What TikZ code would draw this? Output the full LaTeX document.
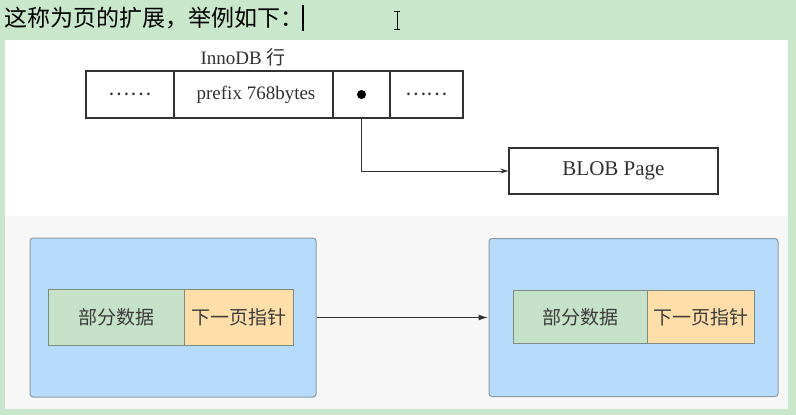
\documentclass[tikz,border=0pt]{standalone}
\usepackage{fontspec}
\setmainfont{Liberation Serif}
\newfontfamily\cjk{Noto Sans CJK SC}
\usetikzlibrary{arrows.meta}
\definecolor{bandgreen}{RGB}{201,231,202}
\definecolor{panelgray}{RGB}{247,247,247}
\definecolor{linegray}{RGB}{50,50,50}
\definecolor{pageblue}{RGB}{182,219,251}
\definecolor{pageborder}{RGB}{140,155,170}
\definecolor{partgreen}{RGB}{197,225,199}
\definecolor{partborder}{RGB}{125,140,130}
\definecolor{ptrorange}{RGB}{255,222,170}
\definecolor{textgray}{RGB}{60,60,60}
\tikzset{
    cell/.style={draw=linegray, line width=1.3pt, inner sep=0pt, minimum height=47pt, text=linegray, font=\fontsize{20}{24}\selectfont},
    page/.style={draw=pageborder, fill=pageblue, rounded corners=3pt, line width=1pt, inner sep=0pt},
    part/.style={draw=partborder, line width=0.8pt, inner sep=0pt, minimum height=56pt, text=textgray, font=\cjk\fontsize{19}{22}\selectfont},
}

\begin{document}
\begin{tikzpicture}[x=1pt,y=-1pt]
\useasboundingbox (0,0) rectangle (796,415);
\fill[bandgreen] (0,0) rectangle (796,415);
\fill[white] (5,40) rectangle (788,216);
\fill[panelgray] (5,216) rectangle (788,409);
\node[anchor=west, inner sep=0pt, font=\cjk\fontsize{23}{26}\selectfont] (title) at (4,18) {这称为页的扩展，举例如下：};
\draw[line width=2pt] (303,5) -- (303,31);
\draw[line width=1pt] (394,11) -- (400,11) (397,11) -- (397,29) (394,29) -- (400,29);
% InnoDB row
\node[text=linegray, font=\fontsize{19}{22}\selectfont] (label) at (243,57) {InnoDB {\cjk 行}};
\node[cell, minimum width=88pt] (c1) at (130,94.5) {\cjk ……};
\node[cell, minimum width=159pt, font=\fontsize{19}{22}\selectfont] (c2) at (253.5,94.5) {\hspace*{5pt}prefix 768bytes};
\node[cell, minimum width=57pt] (c3) at (361.5,94.5) {};
\node[circle, fill=black, inner sep=0pt, minimum size=9pt] (dot) at (c3) {};
\node[cell, minimum width=73pt] (c4) at (426.5,94.5) {\cjk ……};
\node[cell, minimum width=209pt, minimum height=46pt, font=\fontsize{21}{24}\selectfont] (blob) at (613.5,171) {BLOB Page};
\draw[-{Stealth[length=8pt,width=5pt]}, line width=1pt, draw=linegray] (c3.south) |- (blob.west);
% pages
\node[page, minimum width=286pt, minimum height=159pt] (pageL) at (173,317.5) {};
\node[part, fill=partgreen, minimum width=136pt] (dataL) at (116,317) {部分数据};
\node[part, fill=ptrorange, minimum width=109pt] (ptrL) at (238.5,317) {下一页指针};
\node[page, minimum width=289pt, minimum height=158pt] (pageR) at (633.5,317.5) {};
\node[part, fill=partgreen, minimum width=134pt, minimum height=53pt] (dataR) at (580,317) {部分数据};
\node[part, fill=ptrorange, minimum width=107pt, minimum height=53pt] (ptrR) at (700.5,317) {下一页指针};
\path (pageL) edge[-{Latex[length=10pt,width=6pt]}, line width=1.6pt, draw=linegray] (pageR);
\end{tikzpicture}
\end{document}
